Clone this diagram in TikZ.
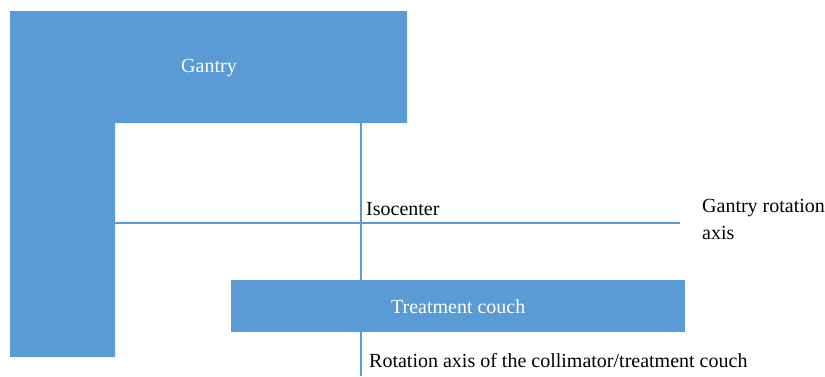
\documentclass[tikz,border=0pt]{standalone}
\usepackage{fontspec}
\setmainfont{Liberation Serif}
\newfontfamily\timesfont{Liberation Serif}
\definecolor{boxblue}{HTML}{5B9BD5}
\begin{document}
\begin{tikzpicture}[x=1pt,y=-1pt,
  lbl/.style={font=\timesfont\fontsize{20}{24}\selectfont, text=black, inner sep=0pt},
  whitelbl/.style={font=\timesfont\fontsize{20}{24}\selectfont, text=white, inner sep=0pt},
  axis/.style={draw=boxblue, line width=1.1pt}]
\useasboundingbox (0,0) rectangle (825,376);
% gantry L-shape
\fill[boxblue] (10,11) -- (407,11) -- (407,123) -- (115,123) -- (115,357) -- (10,357) -- cycle;
\node[whitelbl] (gantry) at (209,68) {Gantry};
% axes
\coordinate (vtop) at (361,123);
\coordinate (vbot) at (361,376);
\coordinate (hleft) at (115,223);
\coordinate (hright) at (680,223);
\draw[axis] (vtop) -- (vbot);
\draw[axis] (hleft) -- (hright);
% couch
\node[fill=boxblue, minimum width=454pt, minimum height=52pt, inner sep=0pt,
  anchor=north west] (couch) at (231,280) {};
\node[whitelbl] (couchlbl) at (couch.center) {Treatment couch};
% labels
\node[lbl, anchor=west] (iso) at (366,209) {Isocenter};
\node[lbl, anchor=north west, align=left, font=\timesfont\fontsize{20}{27}\selectfont] (gra) at (702,199) {Gantry rotation\\axis};
\node[lbl, anchor=west] (rac) at (369,361) {Rotation axis of the collimator/treatment couch};
\end{tikzpicture}
\end{document}
